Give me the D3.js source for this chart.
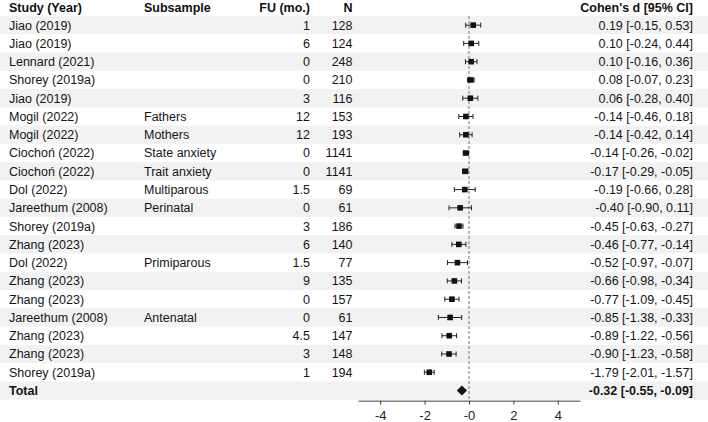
<!DOCTYPE html>
<html><head><meta charset="utf-8">
<script src="https://cdn.jsdelivr.net/npm/d3@7"></script>
<style>body{margin:0;background:#fff}svg{display:block;font-family:"Liberation Sans",Arial,sans-serif}</style>
</head><body><svg id="c" width="708" height="422"></svg>
<script>
const studies = ["Jiao (2019)","Jiao (2019)","Lennard (2021)","Shorey (2019a)","Jiao (2019)","Mogil (2022)","Mogil (2022)","Ciochoń (2022)","Ciochoń (2022)","Dol (2022)","Jareethum (2008)","Shorey (2019a)","Zhang (2023)","Dol (2022)","Zhang (2023)","Zhang (2023)","Jareethum (2008)","Zhang (2023)","Zhang (2023)","Shorey (2019a)"];
const subsamples = ["","","","","","Fathers","Mothers","State anxiety","Trait anxiety","Multiparous","Perinatal","","","Primiparous","","","Antenatal","","",""];
const followUp = ["1","6","0","0","3","12","12","0","0","1.5","0","3","6","1.5","9","0","0","4.5","3","1"];
const sampleN = [128,124,248,210,116,153,193,1141,1141,69,61,186,140,77,135,157,61,147,148,194];
const effect = [0.19,0.10,0.10,0.08,0.06,-0.14,-0.14,-0.14,-0.17,-0.19,-0.40,-0.45,-0.46,-0.52,-0.66,-0.77,-0.85,-0.89,-0.90,-1.79];
const ciLow = [-0.15,-0.24,-0.16,-0.07,-0.28,-0.46,-0.42,-0.26,-0.29,-0.66,-0.90,-0.63,-0.77,-0.97,-0.98,-1.09,-1.38,-1.22,-1.23,-2.01];
const ciHigh = [0.53,0.44,0.36,0.23,0.40,0.18,0.14,-0.02,-0.05,0.28,0.11,-0.27,-0.14,-0.07,-0.34,-0.45,-0.33,-0.56,-0.58,-1.57];
const totalLabel = "Total";
const totalEffect = -0.32, totalLow = -0.55, totalHigh = -0.09;
const headers = ["Study (Year)","Subsample","FU (mo.)","N","Cohen's d [95% CI]"];
const tickValues = [-4,-2,0,2,4];
const tickLabels = ["-4","-2","-0","2","4"];

const svg = d3.select("#c");
const W = 708;
const FS = 12.5;
const nRows = studies.length + 1;
const y = d3.scaleBand().domain(d3.range(nRows)).range([16, 16 + 18.27*nRows]).paddingInner(0).paddingOuter(0);
const x = d3.scaleLinear().domain([-5,5]).range([358,580]);
const f2 = d3.format(".2f");
const fmt = v => f2(v).replace("−","-");

// stripes
svg.append("g").selectAll("rect").data(d3.range(nRows).filter(i => i % 2 === 0)).join("rect")
  .attr("x",0).attr("width",W).attr("y",i=>y(i)).attr("height",y.bandwidth()).attr("fill","#f2f2f2");

// headers
const hy = 11.8;
const hg = svg.append("g").attr("font-weight","bold").attr("font-size",FS).attr("fill","#111");
hg.append("text").attr("x",9).attr("y",hy).text(headers[0]);
hg.append("text").attr("x",144).attr("y",hy).text(headers[1]);
hg.append("text").attr("x",310).attr("y",hy).attr("text-anchor","end").text(headers[2]);
hg.append("text").attr("x",352.5).attr("y",hy).attr("text-anchor","end").text(headers[3]);
hg.append("text").attr("x",693).attr("y",hy).attr("text-anchor","end").text(headers[4]);

// table text
const rows = studies.map((s,i)=>({s, sub:subsamples[i], fu:followUp[i], n:sampleN[i], d:effect[i], lo:ciLow[i], hi:ciHigh[i], i}));
const tg = svg.append("g").attr("font-size",FS).attr("fill","#151515");
const cy = i => y(i) + y.bandwidth()/2 + 4.4;
tg.selectAll("text.s").data(rows).join("text").attr("x",9).attr("y",d=>cy(d.i)).text(d=>d.s);
tg.selectAll("text.sub").data(rows).join("text").attr("x",144).attr("y",d=>cy(d.i)).text(d=>d.sub);
tg.selectAll("text.fu").data(rows).join("text").attr("x",310).attr("y",d=>cy(d.i)).attr("text-anchor","end").text(d=>d.fu);
tg.selectAll("text.n").data(rows).join("text").attr("x",352.5).attr("y",d=>cy(d.i)).attr("text-anchor","end").text(d=>d.n);
tg.selectAll("text.ci").data(rows).join("text").attr("x",693).attr("y",d=>cy(d.i)).attr("text-anchor","end")
  .text(d=>`${fmt(d.d)} [${fmt(d.lo)}, ${fmt(d.hi)}]`);
const ti = studies.length;
tg.append("text").attr("x",9).attr("y",cy(ti)).attr("font-weight","bold").text(totalLabel);
tg.append("text").attr("x",693).attr("y",cy(ti)).attr("font-weight","bold").attr("text-anchor","end")
  .text(`${fmt(totalEffect)} [${fmt(totalLow)}, ${fmt(totalHigh)}]`);

// reference line
svg.append("line").attr("x1",x(0)).attr("x2",x(0)).attr("y1",y(0)).attr("y2",y(ti)+y.bandwidth())
  .attr("stroke","#777").attr("stroke-dasharray","3,2").attr("stroke-width",1);

// CI
const mid = i => y(i) + y.bandwidth()/2;
const pg = svg.append("g").attr("stroke","#222").attr("stroke-width",1);
pg.selectAll("line.ci").data(rows).join("line").attr("x1",d=>x(d.lo)).attr("x2",d=>x(d.hi)).attr("y1",d=>mid(d.i)).attr("y2",d=>mid(d.i));
pg.selectAll("line.cl").data(rows).join("line").attr("x1",d=>x(d.lo)).attr("x2",d=>x(d.lo)).attr("y1",d=>mid(d.i)-2.5).attr("y2",d=>mid(d.i)+2.5);
pg.selectAll("line.ch").data(rows).join("line").attr("x1",d=>x(d.hi)).attr("x2",d=>x(d.hi)).attr("y1",d=>mid(d.i)-2.5).attr("y2",d=>mid(d.i)+2.5);
svg.append("g").selectAll("rect").data(rows).join("rect")
  .attr("x",d=>x(d.d)-2.8).attr("y",d=>mid(d.i)-2.8).attr("width",5.6).attr("height",5.6).attr("fill","#111");

// diamond
const ty = mid(ti);
svg.append("path").attr("fill","#111")
  .attr("d",`M${x(totalLow)},${ty} L${x(totalEffect)},${ty-5} L${x(totalHigh)},${ty} L${x(totalEffect)},${ty+5} Z`);

// axis
const ax = svg.append("g").attr("transform",`translate(0,${y(ti)+y.bandwidth()+1})`)
  .call(d3.axisBottom(x).tickValues(tickValues).tickFormat((d,i)=>tickLabels[i]).tickSize(4).tickSizeOuter(0));
ax.select(".domain").attr("stroke","#444");
ax.selectAll(".tick line").attr("stroke","#444");
ax.selectAll(".tick text").attr("font-size",13).attr("fill","#222").attr("font-family","Liberation Sans, Arial, sans-serif").attr("dy","0.95em");
</script></body></html>
